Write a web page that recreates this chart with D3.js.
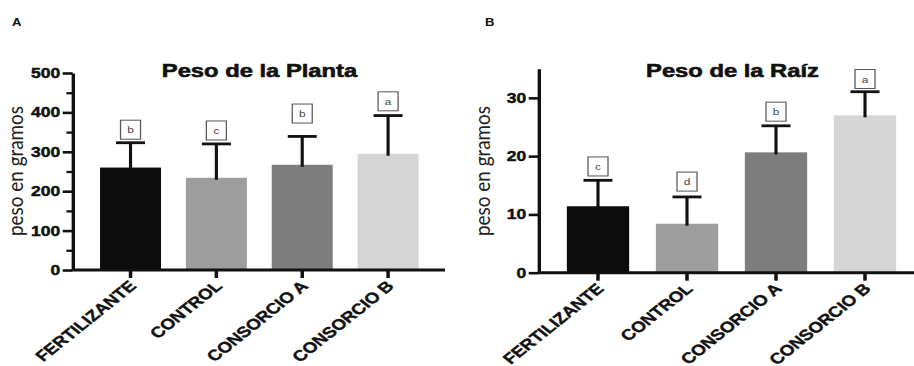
<!DOCTYPE html>
<html>
<head>
<meta charset="utf-8">
<script src="https://cdn.jsdelivr.net/npm/d3@7"></script>
<style>
  html, body { margin: 0; padding: 0; background: #fff; }
  svg { display: block; }
</style>
</head>
<body>
<svg id="chart" width="914" height="366"></svg>
<script>
// ---------------- data ----------------
const categories = ["FERTILIZANTE", "CONTROL", "CONSORCIO A", "CONSORCIO B"];
const barColors = ["#0c0c0c", "#9d9d9d", "#7d7d7d", "#d5d5d5"];

const plantMean = [260, 234, 267, 295];
const plantSD = [63, 86, 72, 97];
const plantLetters = ["b", "c", "b", "a"];
const plantLetterAt = [332, 330, 373, 404];
const plantTicks = [0, 100, 200, 300, 400, 500];
const plantMinor = [50, 150, 250, 350, 450];

const rootMean = [11.4, 8.4, 20.65, 27.0];
const rootSD = [4.45, 4.6, 4.55, 4.05];
const rootLetters = ["c", "d", "b", "a"];
const rootLetterAt = [16.6, 14.0, 26.0, 31.6];
const rootTicks = [0, 10, 20, 30];
const rootMinor = [];

// ---------------- layout ----------------
const SX = 1.25; // horizontal stretch of the original figure
const svg = d3.select("#chart");
const root = svg.append("g").attr("transform", `scale(${SX},1)`);
const BOLD = "'Liberation Sans', Arial, sans-serif";

function panel(p) {
  const gp = root.append("g");
  const x = d3.scaleBand().domain(categories)
    .range([p.band[0] / SX, p.band[1] / SX])
    .paddingInner(p.pad).paddingOuter(p.pad / 2);
  const y = d3.scaleLinear().domain(p.domain).range([p.y0, p.yTop]);
  const ax = p.axisX / SX;

  // bars
  gp.selectAll("rect.bar").data(p.mean).join("rect")
    .attr("class", "bar")
    .attr("x", (d, i) => x(categories[i]))
    .attr("width", x.bandwidth())
    .attr("y", d => y(d))
    .attr("height", d => y(0) - y(d))
    .attr("fill", (d, i) => barColors[i]);

  // error bars (upper only)
  const capW = p.capW / SX;
  const eb = gp.selectAll("g.err").data(p.mean).join("g").attr("class", "err");
  eb.append("line")
    .attr("x1", (d, i) => x(categories[i]) + x.bandwidth() / 2)
    .attr("x2", (d, i) => x(categories[i]) + x.bandwidth() / 2)
    .attr("y1", d => y(d) + 2)
    .attr("y2", (d, i) => y(d + p.sd[i]))
    .attr("stroke", "#111").attr("stroke-width", 2.5);
  eb.append("line")
    .attr("x1", (d, i) => x(categories[i]) + x.bandwidth() / 2 - capW / 2)
    .attr("x2", (d, i) => x(categories[i]) + x.bandwidth() / 2 + capW / 2)
    .attr("y1", (d, i) => y(d + p.sd[i]))
    .attr("y2", (d, i) => y(d + p.sd[i]))
    .attr("stroke", "#111").attr("stroke-width", 2.8);

  // letter boxes
  const bw = 20 / SX, bh = 19;
  const lb = gp.selectAll("g.letter").data(p.letters).join("g").attr("class", "letter")
    .attr("transform", (d, i) => `translate(${x(categories[i]) + x.bandwidth() / 2},${y(p.letterAt[i])})`);
  lb.append("rect")
    .attr("x", -bw / 2).attr("y", -bh).attr("width", bw).attr("height", bh)
    .attr("fill", "#fff").attr("stroke", "#555").attr("stroke-width", 1);
  lb.append("text")
    .attr("x", 0).attr("y", -bh / 2 + 3.5)
    .attr("text-anchor", "middle")
    .attr("font-family", "'Liberation Sans', Arial, sans-serif")
    .attr("font-size", 9.5).attr("fill", "#444")
    .text(d => d);

  // y axis
  const yAxis = d3.axisLeft(y).tickValues(p.ticks).tickSize(8).tickSizeOuter(0).tickPadding(2)
    .tickFormat(d3.format("d"));
  const ga = gp.append("g").attr("transform", `translate(${ax},0)`).call(yAxis);
  ga.select(".domain").attr("stroke", "#111").attr("stroke-width", 2.7);
  ga.selectAll(".tick line").attr("stroke", "#111").attr("stroke-width", 2.6);
  ga.selectAll(".tick text").attr("font-family", BOLD).attr("font-weight", "bold")
    .attr("font-size", 14).attr("fill", "#111")
    .attr("stroke", "#111").attr("stroke-width", 0.45);
  if (p.minor.length) {
    const gm = gp.append("g").attr("transform", `translate(${ax},0)`)
      .call(d3.axisLeft(y).tickValues(p.minor).tickSize(5).tickFormat(""));
    gm.select(".domain").remove();
    gm.selectAll(".tick line").attr("stroke", "#111").attr("stroke-width", 2.3);
  }

  // x axis line
  gp.append("line")
    .attr("x1", ax).attr("x2", p.right / SX)
    .attr("y1", y(0)).attr("y2", y(0))
    .attr("stroke", "#111").attr("stroke-width", 2.9);
  const gx = gp.append("g").attr("transform", `translate(0,${y(0)})`)
    .call(d3.axisBottom(x).tickSize(8).tickFormat(""));
  gx.select(".domain").remove();
  gx.selectAll(".tick line").attr("stroke", "#111").attr("stroke-width", 2.8);

  // x labels
  gp.selectAll("text.xl").data(categories).join("text")
    .attr("class", "xl")
    .attr("transform", d => `translate(${x(d) + x.bandwidth() / 2 + 5.5},${y(0) + p.labDy}) rotate(-45)`)
    .attr("text-anchor", "end")
    .attr("font-family", BOLD).attr("font-weight", "bold")
    .attr("font-size", 15).attr("fill", "#111")
    .attr("stroke", "#111").attr("stroke-width", 0.4)
    .text(d => d);

  // title
  gp.append("text")
    .attr("x", p.titleX / SX).attr("y", 77)
    .attr("text-anchor", "middle")
    .attr("font-family", BOLD).attr("font-weight", "bold")
    .attr("font-size", 19).attr("fill", "#111")
    .attr("stroke", "#111").attr("stroke-width", 0.6)
    .text(p.title);

  // y label
  gp.append("text")
    .attr("transform", `translate(${p.ylabX / SX},171) rotate(-90)`)
    .attr("text-anchor", "middle")
    .attr("font-family", "Lato, 'Open Sans', sans-serif")
    .attr("font-size", 16.5).attr("fill", "#222")
    .attr("textLength", 130).attr("lengthAdjust", "spacingAndGlyphs")
    .text("peso en  gramos");

  // panel letter
  gp.append("text")
    .attr("x", p.letterX / SX).attr("y", 26)
    .attr("font-family", BOLD).attr("font-weight", "bold")
    .attr("font-size", 10.5).attr("fill", "#111")
    .text(p.panel);
}

panel({
  panel: "A", letterX: 12, title: "Peso de la Planta", titleX: 259.5, ylabX: 23,
  mean: plantMean, sd: plantSD, letters: plantLetters, letterAt: plantLetterAt,
  ticks: plantTicks, minor: plantMinor, domain: [0, 500], labDy: 17,
  axisX: 72.7, right: 445, band: [87.6, 431], pad: 0.29, y0: 270, yTop: 73, capW: 29
});
panel({
  panel: "B", letterX: 485, title: "Peso de la Raíz", titleX: 732.5, ylabX: 490,
  mean: rootMean, sd: rootSD, letters: rootLetters, letterAt: rootLetterAt,
  ticks: rootTicks, minor: rootMinor, domain: [0, 35], labDy: 17,
  axisX: 538.7, right: 916, band: [553.5, 909.5], pad: 0.30, y0: 272.7, yTop: 68.7, capW: 29
});
</script>
</body>
</html>
